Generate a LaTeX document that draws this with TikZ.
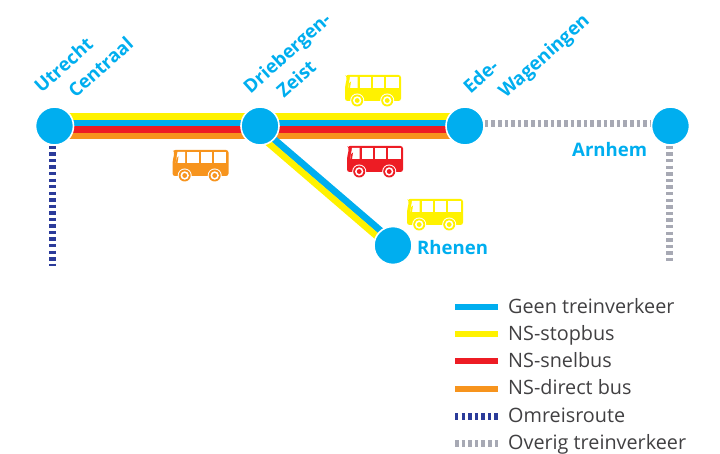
\documentclass[tikz,border=0pt]{standalone}
\usepackage{fontspec}
\setmainfont{Open Sans}
\usetikzlibrary{backgrounds}
\definecolor{cCyan}{HTML}{00AEEF}
\definecolor{cYel}{HTML}{FFF200}
\definecolor{cRed}{HTML}{ED1C24}
\definecolor{cOra}{HTML}{F7941D}
\definecolor{cNavy}{HTML}{2B3B9A}
\definecolor{cGrey}{HTML}{A7A9B4}
\definecolor{cText}{HTML}{414042}
\tikzset{
  x=1pt,y=-1pt,
  station/.style={circle,fill=cCyan,draw=white,line width=1.6pt,minimum size=38pt,inner sep=0pt},
  place/.style={text=cCyan,font=\fontsize{18.6}{20}\selectfont\bfseries,inner sep=0pt,rotate=42,anchor=base west},
  placeflat/.style={text=cCyan,font=\fontsize{18.6}{20}\selectfont\bfseries,inner sep=0pt,anchor=base west},
  legendtext/.style={text=cText,font=\fontsize{19.8}{20}\selectfont,inner sep=0pt,anchor=base west},
  band/.style={line width=6.6pt},
  legendline/.style={line width=6pt},
  dotted navy/.style={line width=7pt,cNavy,dash pattern=on 3.4pt off 3.15pt},
  dotted grey/.style={line width=7pt,cGrey,dash pattern=on 3.5pt off 3.1pt},
  bus/.pic={
    \fill[pic actions,rounded corners=2.5pt] (0.3,0) -- (56,0) -- (56,26) -- (0,26) -- (0,12) -- (2,2) -- cycle;
    \fill[white] (3.2,13) -- (5,2) -- (12.5,2) -- (12.5,13) -- cycle;
    \fill[pic actions] (3.2,13) -- (4.2,8) -- (6,6.5) -- (5,13) -- cycle;
    \fill[white] (14.5,2) rectangle (26,13);
    \fill[white] (28,2) rectangle (39.3,13);
    \fill[white] (41.2,2) rectangle (53.5,13);
    \foreach \wx in {12.2,42.2}{
      \fill[white] (\wx,25.5) circle (7);
      \fill[pic actions] (\wx,25.5) circle (6);
      \fill[white] (\wx,25.5) circle (4.2);
      \fill[pic actions] (\wx,25.5) circle (2.4);
    }
  }
}
\begin{document}
\begin{tikzpicture}
\useasboundingbox (0,0) rectangle (720,454);
% stations
\node[station] (ut) at (54.5,126) {};
\node[station] (db) at (260,126) {};
\node[station] (ed) at (465,126) {};
\node[station] (ar) at (670.5,126) {};
\node[station] (rh) at (393,245.5) {};
\coordinate (utEnd) at (52.5,266);
\coordinate (arEnd) at (669.5,264);
\begin{scope}[on background layer]
  \foreach \a/\b in {ut/db,db/ed}{
    \draw[band,cYel] ([yshift=9.4pt]\a.center) -- ([yshift=9.4pt]\b.center);
    \draw[band,cCyan] ([yshift=3pt]\a.center) -- ([yshift=3pt]\b.center);
    \draw[band,cRed] ([yshift=-3.5pt]\a.center) -- ([yshift=-3.5pt]\b.center);
    \draw[band,cOra] ([yshift=-10pt]\a.center) -- ([yshift=-10pt]\b.center);
  }
  \draw[line width=7pt,cCyan] ([yshift=-1.3pt]db.center) -- ([yshift=4pt]rh.center);
  \draw[line width=6.5pt,cYel] ([yshift=-10pt]db.center) -- ([yshift=-4.8pt]rh.center);
  \draw[dotted navy] (ut.south -| utEnd) -- (utEnd);
  \draw[dotted grey] (ar.south -| arEnd) -- (arEnd);
  \draw[dotted grey] ([yshift=2pt]ed.east) -- ([yshift=2pt]ar.west);
\end{scope}
% buses
\pic[cOra] at (172.5,150) {bus};
\pic[cYel] at (345,75) {bus};
\pic[cRed] at (347,146) {bus};
\pic[cYel] at (407,199) {bus};
% labels
\node[place] (lUtrecht) at (41.5,94) {Utrecht};
\node[place] (lCentraal) at (75.5,99) {Centraal};
\node[place] (lDrieb) at (250.5,94.5) {Driebergen-};
\node[place] (lZeist) at (284,99) {Zeist};
\node[place] (lEde) at (470.5,94.5) {Ede-};
\node[place] (lWag) at (505.5,99) {Wageningen};
\node[placeflat] (lArn) at (572,157) {Arnhem};
\node[placeflat] (lRhe) at (417,255) {Rhenen};
% legend
\foreach \n/\y/\c/\t in {a/307/cCyan/Geen treinverkeer,b/334/cYel/NS-stopbus,c/361/cRed/NS-snelbus,d/388.5/cOra/NS-direct bus}{
  \coordinate (k\n1) at (455,\y);
  \coordinate (k\n2) at (498,\y);
  \draw[legendline,\c] (k\n1) -- (k\n2);
  \node[legendtext] (t\n) at (508,\y+6) {\t};
}
\coordinate (ke1) at (455,416); \coordinate (ke2) at (498,416);
\coordinate (kf1) at (455,443.5); \coordinate (kf2) at (498,443.5);
\draw[dotted navy] (ke1) -- (ke2);
\draw[dotted grey] (kf1) -- (kf2);
\node[legendtext] (te) at (508,422) {Omreisroute};
\node[legendtext] (tf) at (508,449.5) {Overig treinverkeer};
\end{tikzpicture}
\end{document}
